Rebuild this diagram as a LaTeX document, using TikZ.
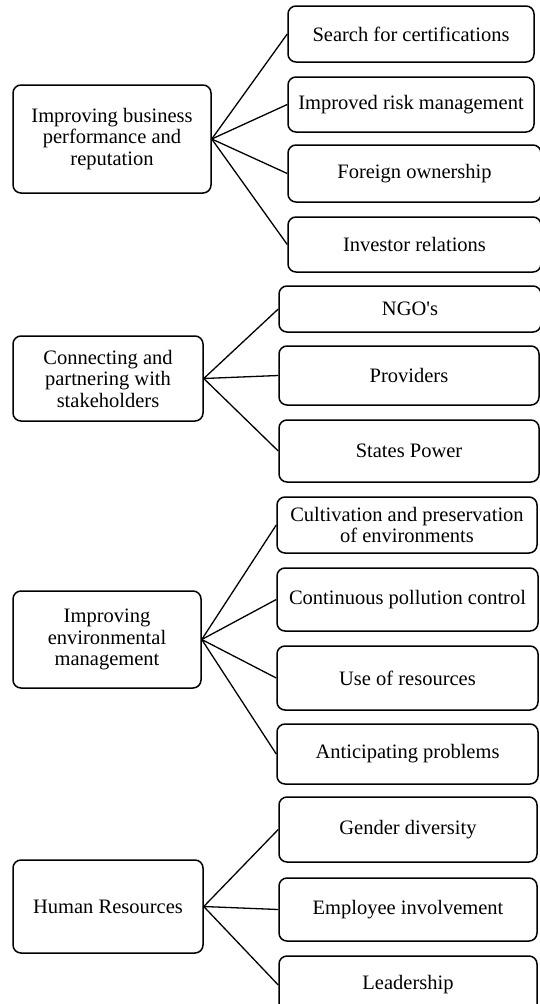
\documentclass[tikz,border=0pt]{standalone}
\usepackage{fontspec}
% a family of its own keeps the straight apostrophe (no TeX ligature mapping)
\newfontfamily\boxfont{Liberation Serif}
\begin{document}
\begin{tikzpicture}[x=1pt,y=-1pt,
  box/.style={draw=black,line width=1.5pt,rounded corners=8pt,inner sep=0pt,
    align=center,font=\boxfont\fontsize{20.5}{21.5}\selectfont},
  link/.style={draw=black,line width=1.3pt}]
\useasboundingbox (0,0) rectangle (540,1004);

% group 1
\node[box,minimum width=198pt,minimum height=108pt] (L1) at (112,139)
  {Improving business\\performance and\\reputation};
\node[box,minimum width=246pt,minimum height=56pt] (R11) at (411,34) {Search for certifications};
\node[box,minimum width=246pt,minimum height=55pt] (R12) at (411,104.5) {Improved risk management};
\node[box,minimum width=253pt,minimum height=57pt] (R13) at (414.5,173.5) {Foreign ownership};
\node[box,minimum width=253pt,minimum height=55pt] (R14) at (414.5,244.5) {Investor relations};

% group 2
\node[box,minimum width=190pt,minimum height=85pt] (L2) at (108,378.5)
  {Connecting and\\partnering with\\stakeholders};
\node[box,minimum width=262pt,minimum height=46pt] (R21) at (410,309) {NGO's};
\node[box,minimum width=260pt,minimum height=59pt] (R22) at (409,375.5) {Providers};
\node[box,minimum width=260pt,minimum height=62pt] (R23) at (409,451) {States Power};

% group 3
\node[box,minimum width=188pt,minimum height=97pt] (L3) at (107,639.5)
  {Improving\\environmental\\management};
\node[box,minimum width=260pt,minimum height=56pt] (R31) at (407,525)
  {Cultivation and preservation\\of environments};
\node[box,minimum width=261pt,minimum height=63pt] (R32) at (407.5,599.5) {Continuous pollution control};
\node[box,minimum width=261pt,minimum height=64pt] (R33) at (407.5,678) {Use of resources};
\node[box,minimum width=261pt,minimum height=60pt] (R34) at (407.5,754) {Anticipating problems};

% group 4
\node[box,minimum width=190pt,minimum height=93pt] (L4) at (108,906.5) {Human Resources};
\node[box,minimum width=258pt,minimum height=65pt] (R41) at (408,829.5) {Gender diversity};
\node[box,minimum width=258pt,minimum height=63pt] (R42) at (408,909.5) {Employee involvement};
\node[box,minimum width=258pt,minimum height=58pt] (R43) at (408,985) {Leadership};

% connectors
\foreach \r in {R11,R12,R13,R14} \draw[link] (L1.east) -- (\r.west);
\foreach \r in {R21,R22,R23} \draw[link] (L2.east) -- (\r.west);
\foreach \r in {R31,R32,R33,R34} \draw[link] (L3.east) -- (\r.west);
\foreach \r in {R41,R42,R43} \draw[link] (L4.east) -- (\r.west);
\end{tikzpicture}
\end{document}
